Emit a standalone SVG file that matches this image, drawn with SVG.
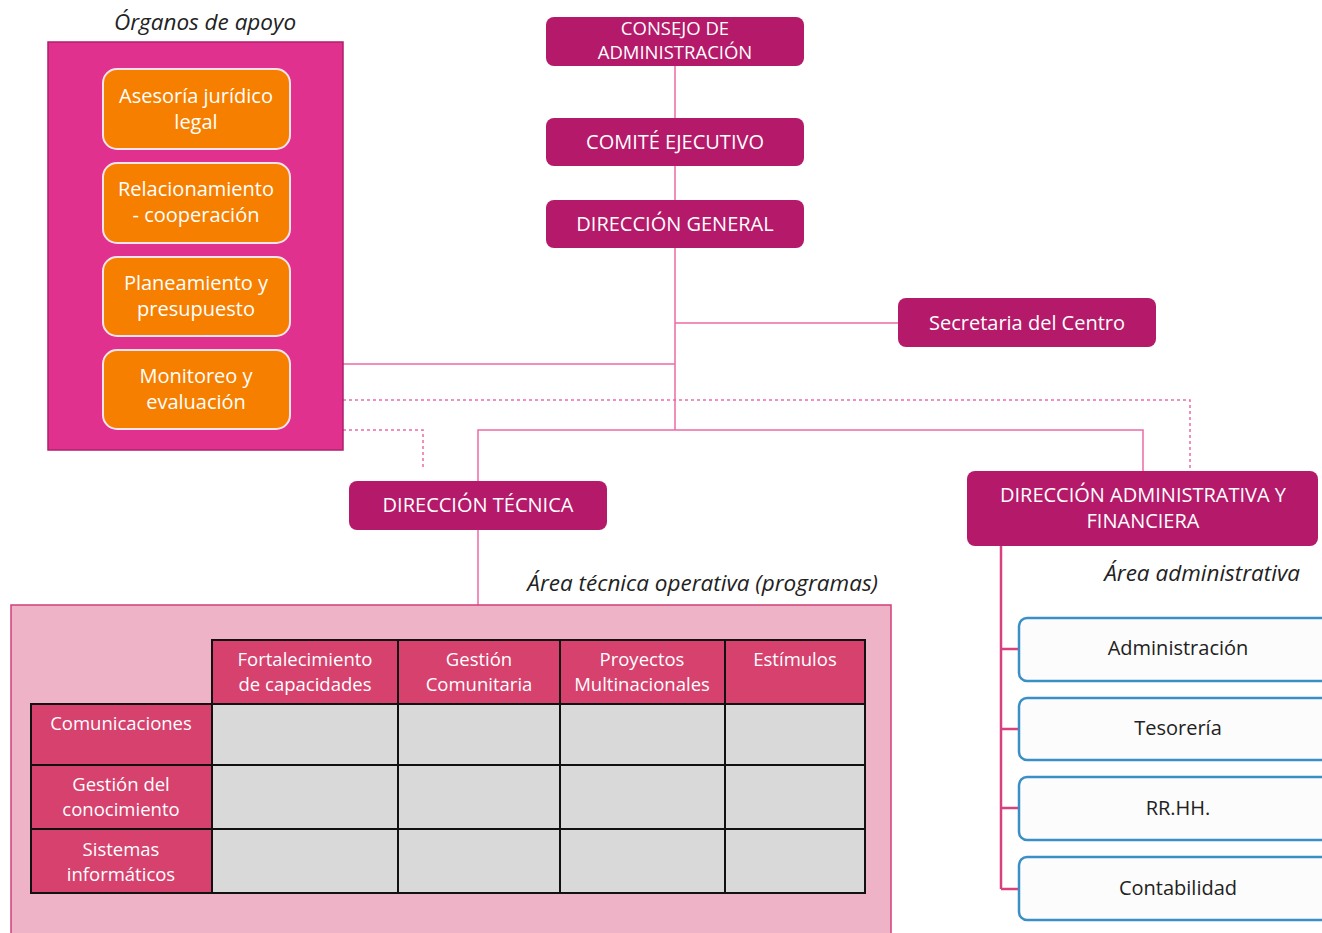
<svg xmlns="http://www.w3.org/2000/svg" width="1322" height="933" viewBox="0 0 1322 933">
<style>
.t{font-family:"Open Sans","Liberation Sans",Arial,sans-serif;font-size:20px;fill:#fff;text-anchor:middle}
.t2{font-family:"Open Sans","Liberation Sans",Arial,sans-serif;font-size:18.5px;fill:#fff;text-anchor:middle}
.k{font-family:"Open Sans","Liberation Sans",Arial,sans-serif;font-size:20px;fill:#222;text-anchor:middle}
.it{font-family:"Open Sans","Liberation Sans",Arial,sans-serif;font-size:22.5px;font-style:italic;fill:#222}
.top{fill:#b5196a}
.org{fill:#f77f00;stroke:#fbe3ee;stroke-width:2}
.area{fill:#fcfcfc;stroke:#3a8fc7;stroke-width:2.5}
.ln{stroke:#ec6aa6;stroke-width:1.5;fill:none}
.dot{stroke:#ec6aa6;stroke-width:1.5;fill:none;stroke-dasharray:3 3}
.hd{fill:#d6416e;stroke:#111;stroke-width:2}
.cl{fill:#d9d9d9;stroke:#111;stroke-width:2}
.tt{font-family:"Open Sans","Liberation Sans",Arial,sans-serif;font-size:18.5px;fill:#fff;text-anchor:middle}
</style>
<rect width="1322" height="933" fill="#fff"/>
<g id="connectors">
<path class="ln" d="M675 66V430"/>
<path class="ln" d="M675 323H898"/>
<path class="ln" d="M343 364H675"/>
<path class="ln" d="M478 481V430H1143V471"/>
<path class="ln" d="M478 530V605"/>
<path class="dot" d="M343 400H1190V470"/>
<path class="dot" d="M343 430H423V468"/>
<path d="M1001 546V889M1001 649H1019M1001 729H1019M1001 808H1019M1001 889H1019" stroke="#d6417e" stroke-width="2.5" fill="none"/>
</g>
<g id="organos">
<text class="it" x="205" y="30" text-anchor="middle">Órganos de apoyo</text>
<rect x="48" y="42" width="295" height="408" fill="#e0318f" stroke="#b01f6c" stroke-width="1.5"/>
</g>
<g id="asesoria"><rect class="org" x="103" y="69" width="187" height="80" rx="14"/><text class="t" x="196" y="103">Asesoría jurídico</text><text class="t" x="196" y="129">legal</text></g>
<g id="relacionamiento"><rect class="org" x="103" y="163" width="187" height="80" rx="14"/><text class="t" x="196" y="196">Relacionamiento</text><text class="t" x="196" y="222">- cooperación</text></g>
<g id="planeamiento"><rect class="org" x="103" y="257" width="187" height="79" rx="14"/><text class="t" x="196" y="290">Planeamiento y</text><text class="t" x="196" y="316">presupuesto</text></g>
<g id="monitoreo"><rect class="org" x="103" y="350" width="187" height="79" rx="14"/><text class="t" x="196" y="383">Monitoreo y</text><text class="t" x="196" y="409">evaluación</text></g>
<g id="consejo"><rect class="top" x="546" y="17" width="258" height="49" rx="8"/><text class="t2" x="675" y="35">CONSEJO DE</text><text class="t2" x="675" y="59">ADMINISTRACIÓN</text></g>
<g id="comite"><rect class="top" x="546" y="118" width="258" height="48" rx="8"/><text class="t" x="675" y="149">COMITÉ EJECUTIVO</text></g>
<g id="direccion-general"><rect class="top" x="546" y="200" width="258" height="48" rx="8"/><text class="t" x="675" y="231">DIRECCIÓN GENERAL</text></g>
<g id="secretaria"><rect class="top" x="898" y="298" width="258" height="49" rx="8"/><text class="t" x="1027" y="330">Secretaria del Centro</text></g>
<g id="direccion-tecnica"><rect class="top" x="349" y="481" width="258" height="49" rx="8"/><text class="t" x="478" y="512">DIRECCIÓN TÉCNICA</text></g>
<g id="direccion-admin"><rect class="top" x="967" y="471" width="351" height="75" rx="8"/><text class="t" x="1143" y="502">DIRECCIÓN ADMINISTRATIVA Y</text><text class="t" x="1143" y="528">FINANCIERA</text></g>
<g id="area-tecnica">
<text class="it" x="878" y="591" text-anchor="end">Área técnica operativa (programas)</text>
<rect x="11" y="605" width="880" height="340" fill="#eeb3c7" stroke="#d0407a" stroke-width="1.5"/>
<rect class="hd" x="212" y="640" width="186" height="64"/>
<rect class="hd" x="398" y="640" width="162" height="64"/>
<rect class="hd" x="560" y="640" width="165" height="64"/>
<rect class="hd" x="725" y="640" width="140" height="64"/>
<rect class="hd" x="31" y="704" width="181" height="61"/>
<rect class="hd" x="31" y="765" width="181" height="64"/>
<rect class="hd" x="31" y="829" width="181" height="64"/>
<rect class="cl" x="212" y="704" width="186" height="61"/><rect class="cl" x="398" y="704" width="162" height="61"/><rect class="cl" x="560" y="704" width="165" height="61"/><rect class="cl" x="725" y="704" width="140" height="61"/>
<rect class="cl" x="212" y="765" width="186" height="64"/><rect class="cl" x="398" y="765" width="162" height="64"/><rect class="cl" x="560" y="765" width="165" height="64"/><rect class="cl" x="725" y="765" width="140" height="64"/>
<rect class="cl" x="212" y="829" width="186" height="64"/><rect class="cl" x="398" y="829" width="162" height="64"/><rect class="cl" x="560" y="829" width="165" height="64"/><rect class="cl" x="725" y="829" width="140" height="64"/>
<text class="tt" x="305" y="666">Fortalecimiento</text><text class="tt" x="305" y="691">de capacidades</text>
<text class="tt" x="479" y="666">Gestión</text><text class="tt" x="479" y="691">Comunitaria</text>
<text class="tt" x="642" y="666">Proyectos</text><text class="tt" x="642" y="691">Multinacionales</text>
<text class="tt" x="795" y="666">Estímulos</text>
<text class="tt" x="121" y="730">Comunicaciones</text>
<text class="tt" x="121" y="791">Gestión del</text><text class="tt" x="121" y="816">conocimiento</text>
<text class="tt" x="121" y="856">Sistemas</text><text class="tt" x="121" y="881">informáticos</text>
</g>
<g id="area-admin"><text class="it" x="1300" y="581" text-anchor="end">Área administrativa</text></g>
<g id="administracion"><rect class="area" x="1019" y="618" width="320" height="63" rx="8"/><text class="k" x="1178" y="655">Administración</text></g>
<g id="tesoreria"><rect class="area" x="1019" y="698" width="320" height="62" rx="8"/><text class="k" x="1178" y="735">Tesorería</text></g>
<g id="rrhh"><rect class="area" x="1019" y="777" width="320" height="63" rx="8"/><text class="k" x="1178" y="815">RR.HH.</text></g>
<g id="contabilidad"><rect class="area" x="1019" y="857" width="320" height="63" rx="8"/><text class="k" x="1178" y="895">Contabilidad</text></g>
</svg>
